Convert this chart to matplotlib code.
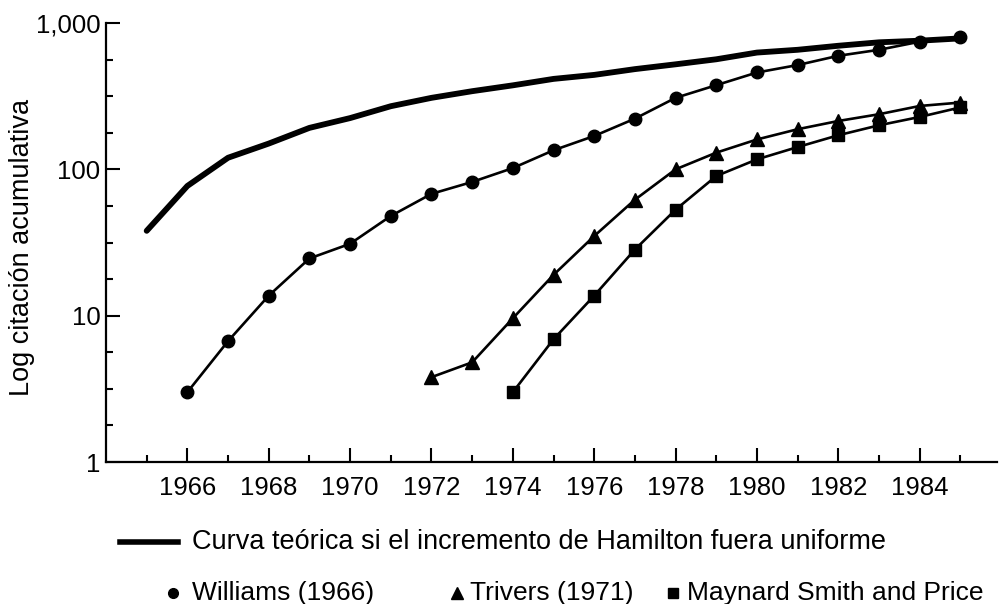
import matplotlib
matplotlib.use("Agg")
import matplotlib.pyplot as plt
from matplotlib.lines import Line2D
from matplotlib.ticker import FixedLocator, NullFormatter

plt.rcParams['font.family'] = ['Liberation Sans', 'DejaVu Sans']

# data
years_theory = [1965, 1966, 1967, 1968, 1969, 1970, 1971, 1972, 1973, 1974, 1975,
                1976, 1977, 1978, 1979, 1980, 1981, 1982, 1983, 1984, 1985]
theory = [38, 77, 120, 150, 192, 224, 270, 308, 342, 375, 415,
          442, 484, 522, 565, 628, 656, 699, 738, 757, 785]

years_williams = list(range(1966, 1986))
williams = [3, 6.7, 13.7, 24.6, 31, 48, 68, 82, 102, 135,
            169, 222, 308, 376, 459, 516, 597, 656, 745, 798]

years_trivers = list(range(1972, 1986))
trivers = [3.8, 4.8, 9.6, 19, 35, 62, 100, 130, 160, 188, 214, 238, 271, 286]

years_msp = list(range(1974, 1986))
msp = [3, 6.9, 13.7, 28.3, 53, 90, 117, 142, 171, 200, 228, 265]

major_years = list(range(1966, 1986, 2))
ytick_vals = [1, 10, 100, 1000]
ytick_labels = ['1', '10', '100', '1,000']

legend_line = 'Curva teórica si el incremento de Hamilton fuera uniforme'
legend_williams = 'Williams (1966)'
legend_trivers = 'Trivers (1971)'
legend_msp = 'Maynard Smith and Price'

W, H = 1002, 604
fig = plt.figure(figsize=(W / 100, H / 100), dpi=100)
ax = fig.add_axes([106 / W, 1 - 462 / H, (997 - 106) / W, (462 - 23) / H])

ax.plot(years_theory, theory, color='black', lw=4.2, solid_capstyle='round')
ax.plot(years_williams, williams, color='black', lw=1.9, marker='o', ms=9)
ax.plot(years_trivers, trivers, color='black', lw=1.9, marker='^', ms=10)
ax.plot(years_msp, msp, color='black', lw=1.9, marker='s', ms=8.5)

ax.set_yscale('log')
ax.set_ylim(1, 1000)
ax.set_xlim(1964, 1985.9)

ax.set_xticks(major_years)
ax.set_xticklabels([str(y) for y in major_years])
ax.xaxis.set_minor_locator(FixedLocator(list(range(1965, 1986))))
ax.set_yticks(ytick_vals)
ax.set_yticklabels(ytick_labels)
minor_y = [10 ** (k + j / 4) for k in range(3) for j in (1, 2, 3)]
ax.yaxis.set_minor_locator(FixedLocator(minor_y))
ax.yaxis.set_minor_formatter(NullFormatter())

ax.tick_params(which='major', direction='in', length=10, width=1.5, labelsize=18.5)
ax.tick_params(which='minor', direction='in', length=5, width=1.5)
ax.tick_params(axis='x', pad=10)
ax.tick_params(axis='y', pad=4)

for s in ['top', 'right']:
    ax.spines[s].set_visible(False)
for s in ['left', 'bottom']:
    ax.spines[s].set_linewidth(1.6)

fig.text(22 / W, 1 - 247 / H, 'Log citación acumulativa', rotation=90,
         ha='center', va='center', fontsize=19.5)

# legend under the chart
def fx(px):
    return px / W

def fy(py):
    return 1 - py / H

fig.add_artist(Line2D([fx(120), fx(178)], [fy(542), fy(542)], color='black', lw=4))
fig.text(fx(192), fy(542), legend_line, ha='left', va='center', fontsize=19.5)

row = [(173, 192, 'o', 7, legend_williams),
       (457, 470, '^', 8, legend_trivers),
       (673, 687, 's', 7, legend_msp)]
for mx, tx, m, ms, label in row:
    fig.add_artist(Line2D([fx(mx)], [fy(593)], marker=m, color='black', ms=ms, lw=0))
    fig.text(fx(tx), fy(593), label, ha='left', va='center', fontsize=19)

fig.savefig('out.png', dpi=100)
